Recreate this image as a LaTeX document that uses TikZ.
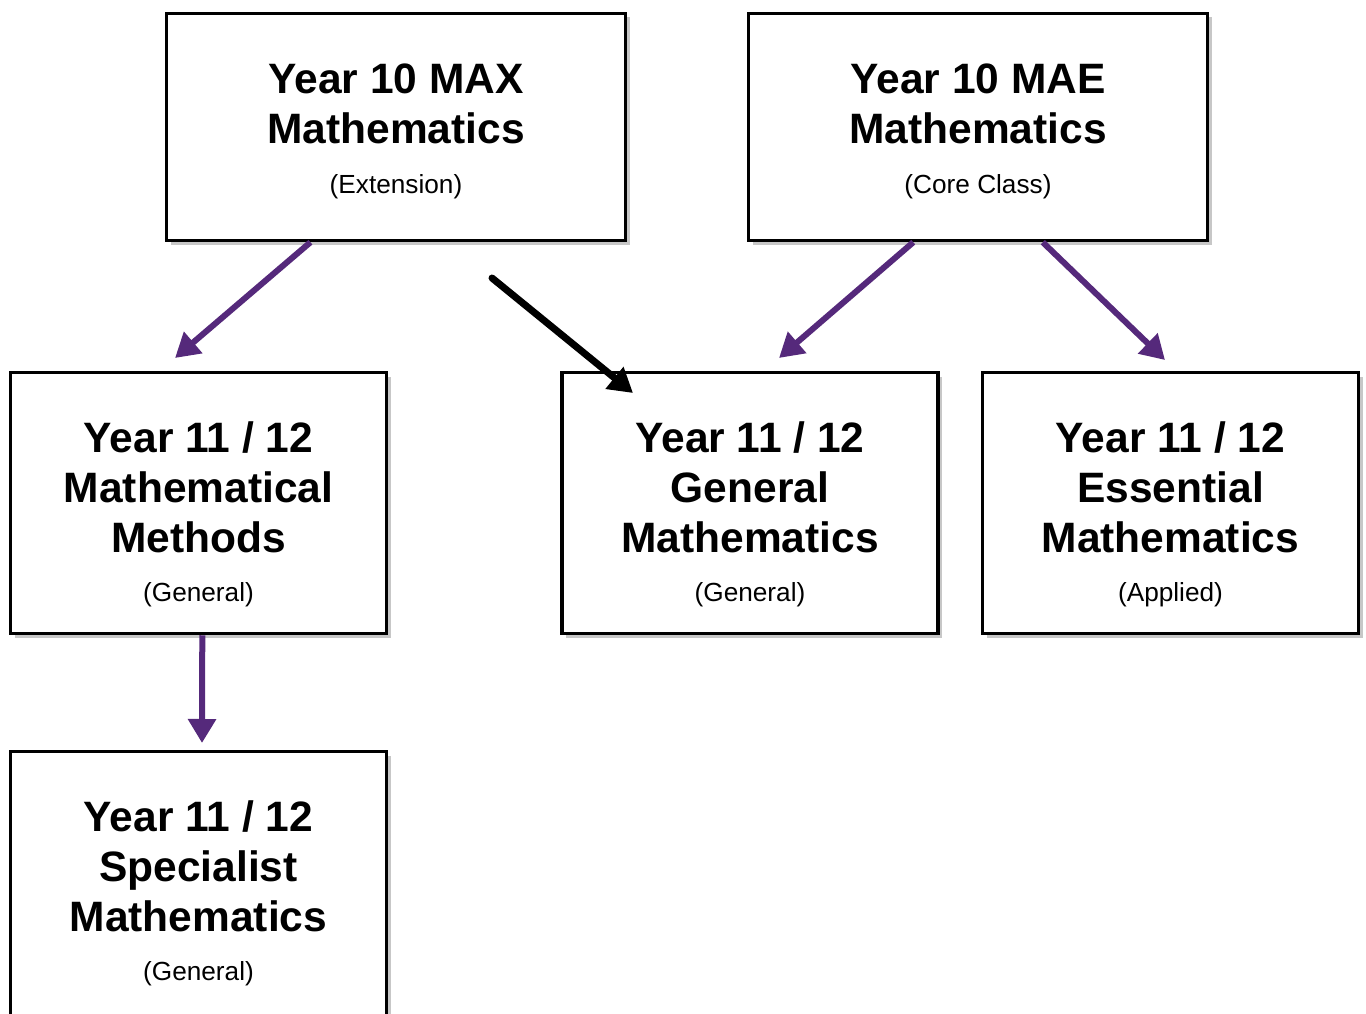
\documentclass[tikz,border=0pt]{standalone}
\usepackage{fontspec}
\setmainfont{Liberation Sans}
\usetikzlibrary{arrows.meta,shadows,calc}
\definecolor{arrowpurple}{RGB}{85,41,123}
\tikzset{
  box/.style={draw=black, line width=3.5pt, fill=white, rectangle, inner sep=0pt,
    drop shadow={shadow xshift=4pt, shadow yshift=-4pt, fill=black, opacity=0.22}},
  bigtxt/.style={anchor=base, inner sep=0pt, font=\bfseries\fontsize{42.5}{50}\selectfont},
  smalltxt/.style={anchor=base, inner sep=0pt, font=\fontsize{26.2}{30}\selectfont},
  purplearrow/.style={draw=arrowpurple, line width=6pt, -{Triangle[length=24pt,width=27pt]}},
  blackarrow/.style={draw=black, line width=7pt, -{Triangle[length=24pt,width=27pt]}}
}
\begin{document}
\begin{tikzpicture}[x=1pt,y=-1pt]
\clip (0,0) rectangle (1366,1014);
\fill[white] (0,0) rectangle (1366,1014);

% boxes
\node[box, minimum width=459pt, minimum height=227pt] (max) at (396,127) {};
\node[box, minimum width=459pt, minimum height=227pt] (mae) at (978,127) {};
\node[box, minimum width=376pt, minimum height=261pt] (meth) at (198.5,503) {};
\node[box, minimum width=376pt, minimum height=261pt] (gen) at (750,503) {};
\node[box, minimum width=376pt, minimum height=261pt] (ess) at (1170.5,503) {};
\node[box, minimum width=376pt, minimum height=275pt] (spec) at (198.5,889) {};

% texts
\node[bigtxt] (maxA) at ($(max.north)+(0,82)$) {Year 10 MAX};
\node[bigtxt] (maxB) at ($(max.north)+(0,132)$) {Mathematics};
\node[smalltxt] (maxC) at ($(max.north)+(0,182)$) {(Extension)};

\node[bigtxt] (maeA) at ($(mae.north)+(0,82)$) {Year 10 MAE};
\node[bigtxt] (maeB) at ($(mae.north)+(0,132)$) {Mathematics};
\node[smalltxt] (maeC) at ($(mae.north)+(0,182)$) {(Core Class)};

\node[bigtxt] (methA) at ($(meth.north)+(0,82)$) {Year 11 / 12};
\node[bigtxt] (methB) at ($(meth.north)+(0,132)$) {Mathematical};
\node[bigtxt] (methC) at ($(meth.north)+(0,182)$) {Methods};
\node[smalltxt] (methD) at ($(meth.north)+(0,231)$) {(General)};

\node[bigtxt] (genA) at ($(gen.north)+(0,82)$) {Year 11 / 12};
\node[bigtxt] (genB) at ($(gen.north)+(0,132)$) {General};
\node[bigtxt] (genC) at ($(gen.north)+(0,182)$) {Mathematics};
\node[smalltxt] (genD) at ($(gen.north)+(0,231)$) {(General)};

\node[bigtxt] (essA) at ($(ess.north)+(0,82)$) {Year 11 / 12};
\node[bigtxt] (essB) at ($(ess.north)+(0,132)$) {Essential};
\node[bigtxt] (essC) at ($(ess.north)+(0,182)$) {Mathematics};
\node[smalltxt] (essD) at ($(ess.north)+(0,231)$) {(Applied)};

\node[bigtxt] (specA) at ($(spec.north)+(0,82)$) {Year 11 / 12};
\node[bigtxt] (specB) at ($(spec.north)+(0,132)$) {Specialist};
\node[bigtxt] (specC) at ($(spec.north)+(0,182)$) {Mathematics};
\node[smalltxt] (specD) at ($(spec.north)+(0,231)$) {(General)};

% connector end points
\coordinate (s1) at ($(max.south west)!0.315!(max.south east)$);
\coordinate (e1) at (175,358);
\coordinate (s3) at ($(mae.south west)!0.36!(mae.south east)$);
\coordinate (e3) at (779,358);
\coordinate (s4) at ($(mae.south west)!0.64!(mae.south east)$);
\coordinate (e4) at (1165,360);
\coordinate (s5) at ($(meth.south west)!0.51!(meth.south east)$);
\coordinate (e5) at (202,743);
\coordinate (s2) at (492,278);
\coordinate (e2) at (633,393);

\draw[purplearrow] (s1) -- (e1);
\draw[purplearrow] (s3) -- (e3);
\draw[purplearrow] (s4) -- (e4);
\draw[purplearrow] (s5) -- (e5);
\draw[blackarrow, line cap=round] (s2) -- (e2);
\end{tikzpicture}
\end{document}
